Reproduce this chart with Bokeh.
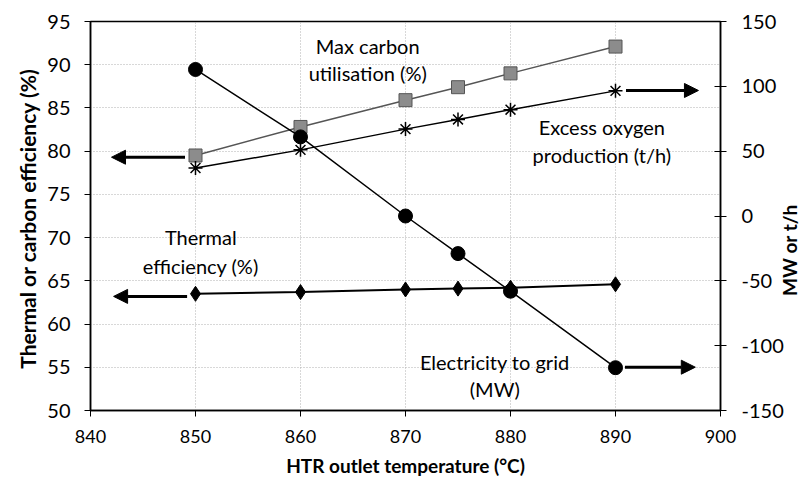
from bokeh.plotting import figure
from bokeh.layouts import row
from bokeh.models import (Range1d, LinearAxis, Arrow, NormalHead, Label,
                          FixedTicker, PrintfTickFormatter, Div)
from bokeh.embed import file_html
from bokeh.resources import INLINE

# ---------------- data ----------------
temps = [850, 860, 870, 875, 880, 890]
max_carbon = [79.5, 82.8, 85.9, 87.4, 89.0, 92.1]          # % (left axis)
excess_oxygen = [37, 51, 67, 74.5, 82, 96.5]               # t/h (right axis)
electricity = [113, 61, 0, -29, -58, -117]                 # MW (right axis)
thermal = [63.5, 63.7, 64.0, 64.1, 64.2, 64.6]             # % (left axis)

x_ticks = [840, 850, 860, 870, 880, 890, 900]
left_ticks = [50, 55, 60, 65, 70, 75, 80, 85, 90, 95]
right_ticks = [-150, -100, -50, 0, 50, 100, 150]

FONT = "Lato"
H = 483

p = figure(width=786, height=H, output_backend="svg", toolbar_location=None,
           x_range=Range1d(840, 900), y_range=Range1d(50, 95),
           min_border_left=90, min_border_right=65,
           min_border_top=21, min_border_bottom=73)
p.extra_y_ranges = {"right": Range1d(-150, 150)}

p.outline_line_color = "black"
p.outline_line_width = 1.5

for ax in (p.xaxis[0], p.yaxis[0]):
    ax.axis_line_color = "black"
    ax.axis_line_width = 1.5
    ax.major_tick_line_color = "black"
    ax.major_tick_in = 0
    ax.major_tick_out = 6
    ax.minor_tick_line_color = None
    ax.major_label_text_font = FONT
    ax.major_label_text_color = "black"
    ax.axis_label_text_font = FONT
    ax.axis_label_text_font_style = "bold"
    ax.axis_label_text_color = "black"

p.xaxis[0].ticker = FixedTicker(ticks=x_ticks)
p.xaxis[0].major_label_text_font_size = "18px"
p.xaxis[0].axis_label = "HTR outlet temperature (°C)"
p.xaxis[0].axis_label_text_font_size = "19px"
p.xaxis[0].major_label_standoff = 13
p.xaxis[0].axis_label_standoff = 8

p.yaxis[0].ticker = FixedTicker(ticks=left_ticks)
p.yaxis[0].major_label_text_font_size = "20px"
p.yaxis[0].axis_label = "Thermal or carbon efficiency  (%)"
p.yaxis[0].axis_label_text_font_size = "21px"
p.yaxis[0].major_label_standoff = 14
p.yaxis[0].axis_label_standoff = 4

ra = LinearAxis(y_range_name="right", ticker=FixedTicker(ticks=right_ticks),
                formatter=PrintfTickFormatter(format="%d"))
ra.axis_line_color = "black"
ra.axis_line_width = 1.5
ra.major_tick_in = 6
ra.major_tick_out = 6
ra.minor_tick_line_color = None
ra.major_label_text_font = FONT
ra.major_label_text_font_size = "20px"
ra.major_label_text_color = "black"
ra.major_label_standoff = 15
p.add_layout(ra, "right")

p.xgrid.ticker = FixedTicker(ticks=x_ticks)
p.ygrid.ticker = FixedTicker(ticks=left_ticks)
for g in (p.xgrid[0], p.ygrid[0]):
    g.grid_line_color = "#b0b0b0"
    g.grid_line_dash = "1 2"
    g.grid_line_width = 1

# ---------------- series ----------------
p.line(temps, max_carbon, line_color="#555555", line_width=1.5)
p.scatter(temps, max_carbon, marker="square", size=13,
          fill_color="#8c8c8c", line_color="#555555", line_width=1)

p.line(temps, excess_oxygen, y_range_name="right", line_color="black", line_width=1.5)
p.scatter(temps, excess_oxygen, y_range_name="right", marker="asterisk", size=14,
          line_color="black", line_width=1.5)

p.line(temps, thermal, line_color="black", line_width=2)
p.scatter(temps, thermal, marker="diamond", size=15, fill_color="black",
          line_color="black")

p.line(temps, electricity, y_range_name="right", line_color="black", line_width=1.5)
p.scatter(temps, electricity, y_range_name="right", marker="circle", size=14,
          fill_color="black", line_color="black")

# ---------------- arrows ----------------
def arrow(x0, y0, x1, y1, rng="default"):
    a = Arrow(end=NormalHead(size=14, fill_color="black", line_color="black"),
              x_start=x0, y_start=y0, x_end=x1, y_end=y1,
              line_width=3, line_color="black", y_range_name=rng)
    p.add_layout(a)

arrow(849.0, 79.3, 842.0, 79.3)
arrow(849.2, 63.2, 842.2, 63.2)
arrow(891.0, 96.8, 897.9, 96.8, "right")
arrow(890.9, -116.6, 897.6, -116.6, "right")

# ---------------- labels ----------------
def lab(x, y, t):
    p.add_layout(Label(x=x, y=y, text=t, text_align="center",
                       text_baseline="middle", text_font=FONT,
                       text_font_size="20px", text_color="black"))

lab(866.4, 92.2, "Max carbon")
lab(866.4, 89.1, "utilisation (%)")
lab(888.7, 82.75, "Excess oxygen")
lab(888.7, 79.6, "production (t/h)")
lab(850.5, 70.05, "Thermal")
lab(850.5, 66.7, "efficiency (%)")
lab(878.5, 55.6, "Electricity to grid")
lab(878.5, 52.5, "(MW)")

# right axis title, reading bottom-to-top
right_title = Div(
    text=('<div style="writing-mode: vertical-rl; transform: rotate(180deg); '
          'position: relative; left: -13px; margin-top: 25px; '
          'width: 24px; line-height: 24px; '
          'font-family: Lato; font-weight: bold; font-size: 19px; color: black; '
          'height: 440px; display: flex; justify-content: center; '
          'align-items: center; white-space: nowrap;">MW or t/h</div>'),
    width=16, height=H)

layout = row(p, right_title)

open("out.html", "w").write(file_html(layout, INLINE))
